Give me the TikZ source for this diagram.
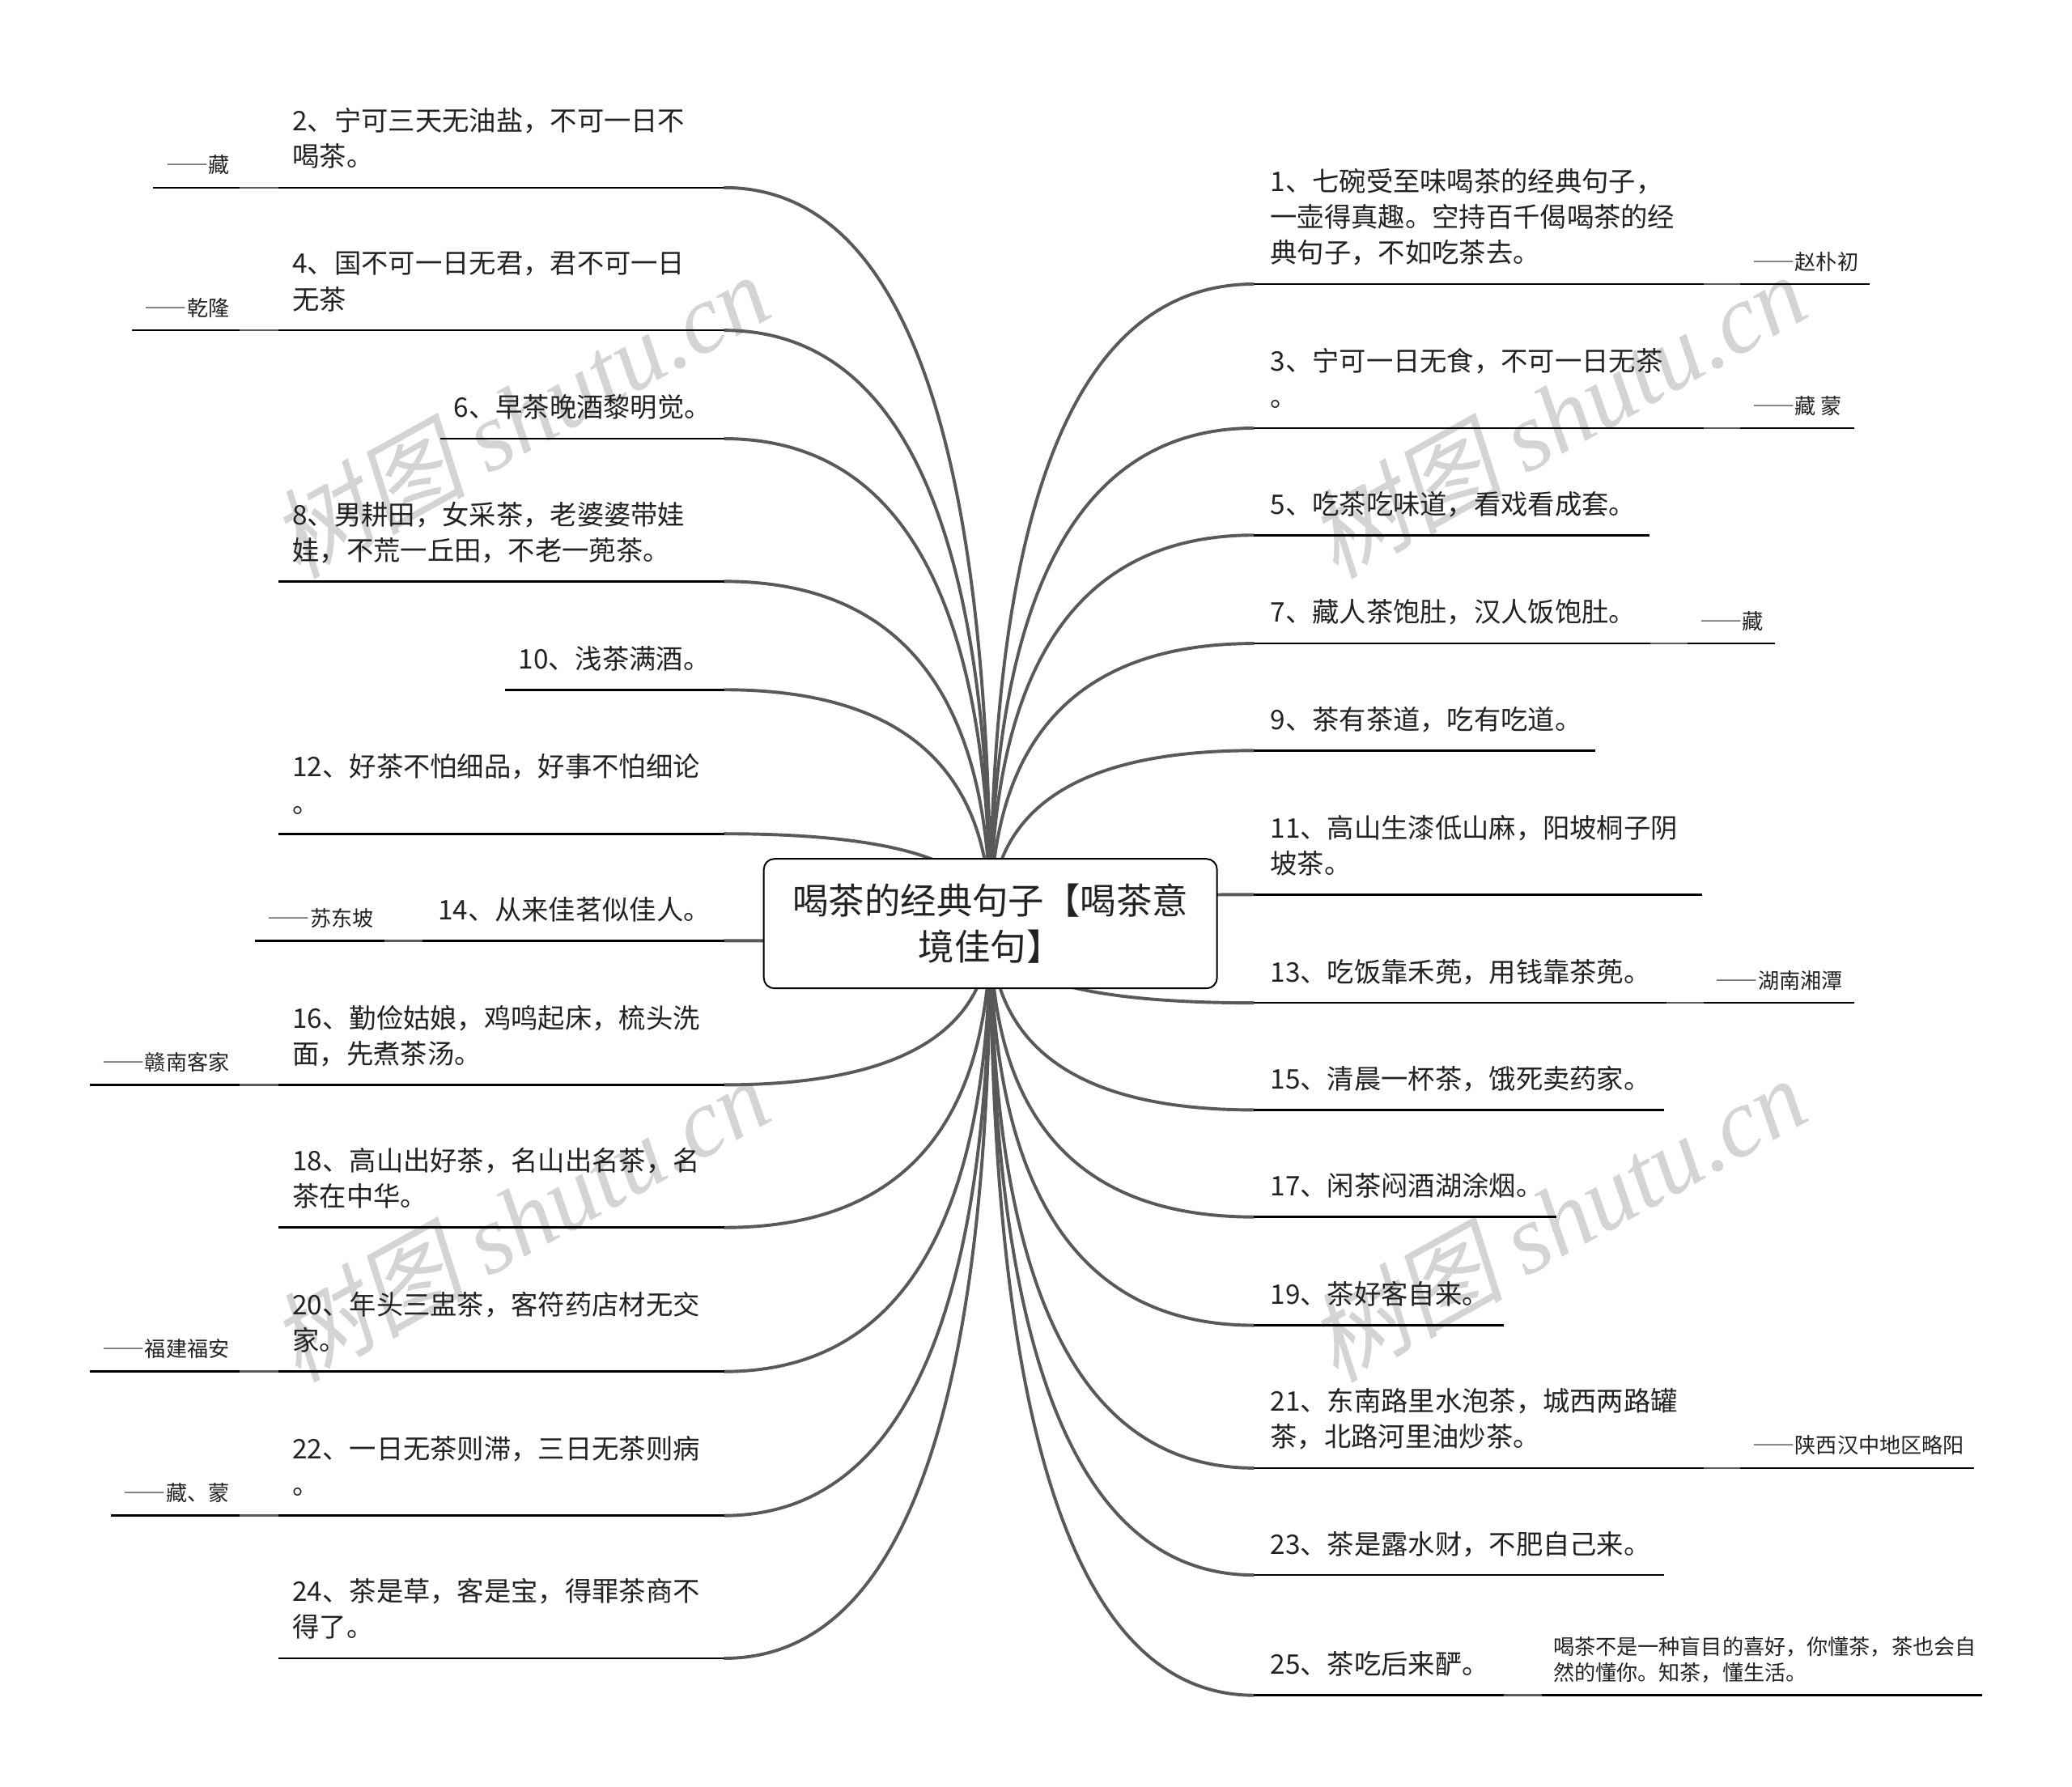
\documentclass[tikz,border=0pt]{standalone}
\usepackage{fontspec}
\setmainfont{Noto Sans CJK SC}
\newfontfamily\wmcjk[FakeSlant=0.2]{Noto Sans CJK SC}
\newfontfamily\wmlat{Liberation Serif}
\usetikzlibrary{calc}
\definecolor{linegray}{HTML}{595959}
\definecolor{txtc}{HTML}{222222}
\definecolor{wmc}{HTML}{D4D4D4}
\tikzset{
  qt/.style={anchor=base west, inner sep=0pt, text=txtc, font=\fontsize{10.2}{13.5}\selectfont},
  attr/.style={inner sep=0pt, text=txtc, font=\fontsize{8}{10}\selectfont},
  atl/.style={attr, anchor=base east},
  atr/.style={attr, anchor=base west},
  ul/.style={draw=black, line width=0.8pt},
  lk/.style={draw=linegray, line width=0.8pt},
  cn/.style={draw=linegray, line width=1.2pt},
  wm/.style={inner sep=0pt, text=wmc, rotate=29},
  rootbox/.style={draw=black, line width=0.6pt, rounded corners=4pt, fill=white,
    minimum width=171.5pt, minimum height=49pt, inner sep=0pt, align=center,
    text=txtc, font=\fontsize{13.6}{17.5}\selectfont}
}
\newcommand\dd{{\addfontfeature{RawFeature=+fwid}——}}
\newcommand\hubconn[1]{\draw[cn] (#1) .. controls ($(#1)!0.6667!(hub|-#1)$) and ($(hub)!0.6667!(hub|-#1)$) .. (hub);}
\newcommand\mmL[3]{%
  \coordinate (#1e) at (548,#2);
  \coordinate (#1s) at (#3,#2);
  \hubconn{#1e}
  \draw[ul] (#1s) -- (#1e);}
\newcommand\mmLc[4]{%
  \coordinate (#1c) at (#3,#2);
  \coordinate (#1d) at (#4,#2);
  \draw[lk] (#1c) -- (#1s);
  \draw[ul] (#1d) -- (#1c);}
\newcommand\mmR[3]{%
  \coordinate (#1e) at (949,#2);
  \coordinate (#1s) at (#3,#2);
  \hubconn{#1e}
  \draw[ul] (#1e) -- (#1s);}
\newcommand\mmRc[4]{%
  \coordinate (#1c) at (#3,#2);
  \coordinate (#1d) at (#4,#2);
  \draw[lk] (#1s) -- (#1c);
  \draw[ul] (#1c) -- (#1d);}
\newcommand\wmtext{\fontsize{37}{40}\selectfont\wmcjk 树图\ \wmlat\itshape shutu.cn}
\begin{document}
\begin{tikzpicture}[x=0.5pt,y=-0.5pt]
\fill[white] (0,0) rectangle (1568,1352);
\useasboundingbox (0,0) rectangle (1568,1352);
% watermarks
\node[wm] (wm1) at (393,314) {\wmtext};
\node[wm] (wm2) at (1178,314) {\wmtext};
\node[wm] (wm3) at (393,922) {\wmtext};
\node[wm] (wm4) at (1178,922) {\wmtext};
\coordinate (hub) at (749.5,699);
% left branches
\mmL{l2}{142}{211} \mmLc{l2}{142}{181}{116}
\mmL{l4}{250}{211} \mmLc{l4}{250}{181}{100}
\mmL{l6}{332}{333}
\mmL{l8}{440}{211}
\mmL{l10}{522}{382}
\mmL{l12}{631}{211}
\mmL{l14}{712}{320} \mmLc{l14}{712}{291}{193}
\mmL{l16}{821}{211} \mmLc{l16}{821}{181}{68}
\mmL{l18}{929}{211}
\mmL{l20}{1038}{211} \mmLc{l20}{1038}{181}{68}
\mmL{l22}{1147}{211} \mmLc{l22}{1147}{181}{84}
\mmL{l24}{1255}{211}
% right branches
\mmR{r1}{215}{1289} \mmRc{r1}{215}{1317}{1415}
\mmR{r3}{324}{1289} \mmRc{r3}{324}{1317}{1403}
\mmR{r5}{405}{1248}
\mmR{r7}{487}{1249} \mmRc{r7}{487}{1277}{1343}
\mmR{r9}{568}{1207}
\mmR{r11}{677}{1288}
\mmR{r13}{759}{1261} \mmRc{r13}{759}{1289}{1403}
\mmR{r15}{840}{1259}
\mmR{r17}{921}{1178}
\mmR{r19}{1003}{1138}
\mmR{r21}{1111}{1289} \mmRc{r21}{1111}{1317}{1494}
\mmR{r23}{1192}{1259}
\mmR{r25}{1283}{1138} \mmRc{r25}{1283}{1167}{1500}
% root
\node[rootbox] (root) at (hub) {喝茶的经典句子【喝茶意\\境佳句】};
% left texts
\node[qt] (q2a) at (221,99) {2、宁可三天无油盐，不可一日不};
\node[qt] (q2b) at (221,126) {喝茶。};
\node[atl] (a2) at (174,131) {\dd 藏};
\node[qt] (q4a) at (221,207) {4、国不可一日无君，君不可一日};
\node[qt] (q4b) at (221,234) {无茶};
\node[atl] (a4) at (174,239) {\dd 乾隆};
\node[qt] (q6) at (343,316) {6、早茶晚酒黎明觉。};
\node[qt] (q8a) at (221,397) {8、男耕田，女采茶，老婆婆带娃};
\node[qt] (q8b) at (221,424) {娃，不荒一丘田，不老一蔸茶。};
\node[qt] (q10) at (392,506) {10、浅茶满酒。};
\node[qt] (q12a) at (221,588) {12、好茶不怕细品，好事不怕细论};
\node[qt] (q12b) at (221,615) {。};
\node[qt] (q14) at (331,696) {14、从来佳茗似佳人。};
\node[atl] (a14) at (283,701) {\dd 苏东坡};
\node[qt] (q16a) at (221,778) {16、勤俭姑娘，鸡鸣起床，梳头洗};
\node[qt] (q16b) at (221,805) {面，先煮茶汤。};
\node[atl] (a16) at (174,810) {\dd 赣南客家};
\node[qt] (q18a) at (221,886) {18、高山出好茶，名山出名茶，名};
\node[qt] (q18b) at (221,913) {茶在中华。};
\node[qt] (q20a) at (221,995) {20、年头三盅茶，客符药店材无交};
\node[qt] (q20b) at (221,1022) {家。};
\node[atl] (a20) at (174,1027) {\dd 福建福安};
\node[qt] (q22a) at (221,1104) {22、一日无茶则滞，三日无茶则病};
\node[qt] (q22b) at (221,1131) {。};
\node[atl] (a22) at (174,1136) {\dd 藏、蒙};
\node[qt] (q24a) at (221,1212) {24、茶是草，客是宝，得罪茶商不};
\node[qt] (q24b) at (221,1239) {得了。};
% right texts
\node[qt] (q1a) at (961,145) {1、七碗受至味喝茶的经典句子，};
\node[qt] (q1b) at (961,172) {一壶得真趣。空持百千偈喝茶的经};
\node[qt] (q1c) at (961,199) {典句子，不如吃茶去。};
\node[atr] (a1) at (1326,204) {\dd 赵朴初};
\node[qt] (q3a) at (961,281) {3、宁可一日无食，不可一日无茶};
\node[qt] (q3b) at (961,308) {。};
\node[atr] (a3) at (1326,313) {\dd 藏 蒙};
\node[qt] (q5) at (961,389) {5、吃茶吃味道，看戏看成套。};
\node[qt] (q7) at (961,471) {7、藏人茶饱肚，汉人饭饱肚。};
\node[atr] (a7) at (1286,476) {\dd 藏};
\node[qt] (q9) at (961,552) {9、茶有茶道，吃有吃道。};
\node[qt] (q11a) at (961,634) {11、高山生漆低山麻，阳坡桐子阴};
\node[qt] (q11b) at (961,661) {坡茶。};
\node[qt] (q13) at (961,743) {13、吃饭靠禾蔸，用钱靠茶蔸。};
\node[atr] (a13) at (1298,748) {\dd 湖南湘潭};
\node[qt] (q15) at (961,824) {15、清晨一杯茶，饿死卖药家。};
\node[qt] (q17) at (961,905) {17、闲茶闷酒湖涂烟。};
\node[qt] (q19) at (961,987) {19、茶好客自来。};
\node[qt] (q21a) at (961,1068) {21、东南路里水泡茶，城西两路罐};
\node[qt] (q21b) at (961,1095) {茶，北路河里油炒茶。};
\node[atr] (a21) at (1326,1100) {\dd 陕西汉中地区略阳};
\node[qt] (q23) at (961,1176) {23、茶是露水财，不肥自己来。};
\node[qt] (q25) at (961,1267) {25、茶吃后来酽。};
\node[atr] (a25a) at (1175,1252) {喝茶不是一种盲目的喜好，你懂茶，茶也会自};
\node[atr] (a25b) at (1175,1272) {然的懂你。知茶，懂生活。};
\end{tikzpicture}
\end{document}
